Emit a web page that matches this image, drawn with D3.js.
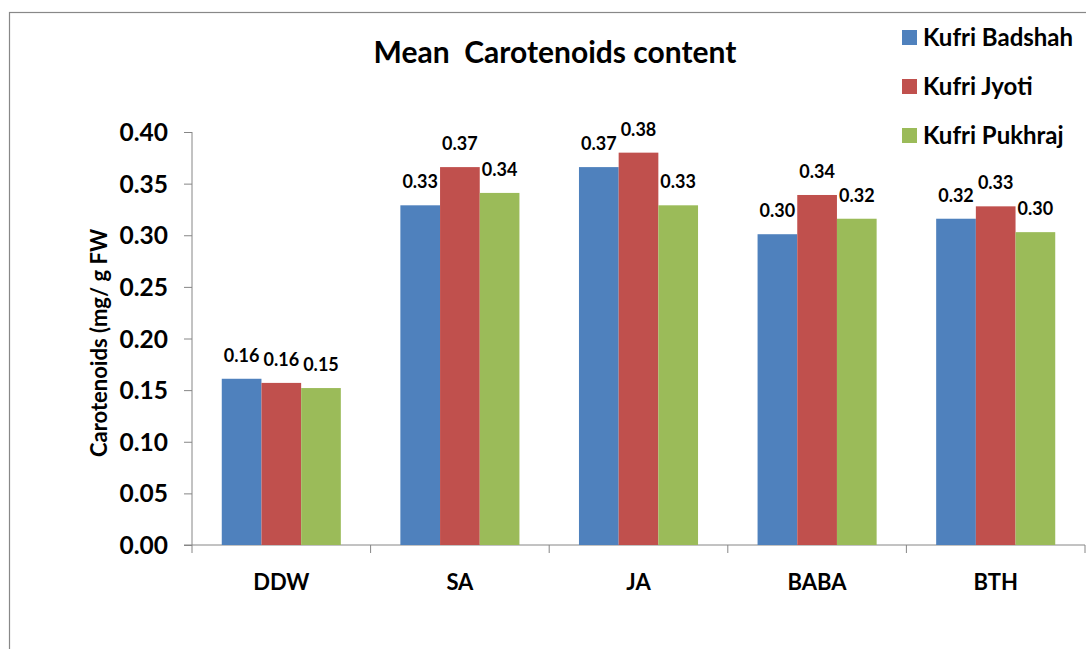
<!DOCTYPE html>
<html>
<head>
	<title></title>
	<style>
		body { margin: 0; background: #fff; }
		text { font-family: Lato, "Open Sans", sans-serif; font-weight: bold; fill: #000; }
	</style>
</head>
<body>
	<svg id="container" width="1086" height="649"></svg>
</body>
<script src="https://d3js.org/d3.v7.min.js"></script>
<script>
	// data
	let categories = ["DDW", "SA", "JA", "BABA", "BTH"]
	let series = ["Kufri Badshah", "Kufri Jyoti", "Kufri Pukhraj"]
	let badshah = [0.161, 0.329, 0.366, 0.301, 0.316]
	let jyoti = [0.157, 0.366, 0.380, 0.339, 0.328]
	let pukhraj = [0.152, 0.341, 0.329, 0.316, 0.303]
	let yTicks = [0, 0.05, 0.10, 0.15, 0.20, 0.25, 0.30, 0.35, 0.40]
	let colors = ["#4F81BD", "#C0504D", "#9BBB59"]

	let values = [badshah, jyoti, pukhraj]
	let svg = d3.select("#container")

	// outer chart frame
	svg.append("rect")
		.attr("x", 9.5).attr("y", 12.5)
		.attr("width", 1100).attr("height", 700)
		.attr("fill", "none").attr("stroke", "#888").attr("stroke-width", 1.2)

	let x = d3.scaleBand().domain(categories).range([192, 1085])
	let x1 = d3.scaleBand().domain(series).range([0, x.bandwidth()]).paddingOuter(0.75)
	let y = d3.scaleLinear().domain([0, 0.4]).range([545, 132])

	// y axis
	let yAxis = svg.append("g")
		.attr("transform", "translate(192,0)")
		.call(d3.axisLeft(y).tickValues(yTicks).tickFormat(d3.format(".2f")).tickSize(8).tickPadding(16))
	yAxis.select(".domain").attr("stroke", "#868686").attr("d", "M0,132V553")
	yAxis.selectAll(".tick line").attr("stroke", "#868686")
	yAxis.selectAll(".tick text").style("font-size", "24.5px").attr("dy", "0.35em")

	// x axis line + boundary ticks
	svg.append("line")
		.attr("x1", 184).attr("x2", 1085)
		.attr("y1", y(0)).attr("y2", y(0))
		.attr("stroke", "#868686")
	svg.selectAll(".xtick")
		.data(categories)
		.enter().append("line")
		.attr("x1", d => x(d) + x.bandwidth())
		.attr("x2", d => x(d) + x.bandwidth())
		.attr("y1", y(0)).attr("y2", y(0) + 8)
		.attr("stroke", "#868686")
	svg.selectAll(".xlab")
		.data(categories)
		.enter().append("text")
		.attr("x", d => x(d) + x.bandwidth() / 2)
		.attr("y", 590)
		.attr("text-anchor", "middle")
		.style("font-size", "22px")
		.text(d => d)

	// bars
	let groups = svg.selectAll(".grp")
		.data(categories)
		.enter().append("g")
		.attr("transform", d => "translate(" + x(d) + ",0)")

	series.forEach((s, si) => {
		groups.append("rect")
			.attr("x", x1(s))
			.attr("y", (d, i) => y(values[si][i]))
			.attr("width", x1.bandwidth())
			.attr("height", (d, i) => y(0) - y(values[si][i]))
			.attr("fill", colors[si])
		groups.append("text")
			.attr("x", x1(s) + x1.bandwidth() / 2)
			.attr("y", (d, i) => y(values[si][i]) - 17)
			.attr("text-anchor", "middle")
			.style("font-size", "18px")
			.text((d, i) => d3.format(".2f")(values[si][i]))
	})

	// title
	svg.append("text")
		.attr("x", 555).attr("y", 63)
		.attr("text-anchor", "middle")
		.style("font-size", "30px")
		.style("white-space", "pre")
		.text("Mean  Carotenoids content")

	// y label
	svg.append("text")
		.attr("transform", "translate(107,343) rotate(-90)")
		.attr("text-anchor", "middle")
		.style("font-size", "22px")
		.text("Carotenoids (mg/ g FW")

	// legend
	let legend = svg.selectAll(".leg")
		.data(series)
		.enter().append("g")
		.attr("transform", (d, i) => "translate(902," + (30 + i * 49) + ")")
	legend.append("rect")
		.attr("width", 15).attr("height", 15)
		.attr("fill", (d, i) => colors[i])
	legend.append("text")
		.attr("x", 21).attr("y", 16)
		.style("font-size", "24px")
		.text(d => d)
</script>
</html>
